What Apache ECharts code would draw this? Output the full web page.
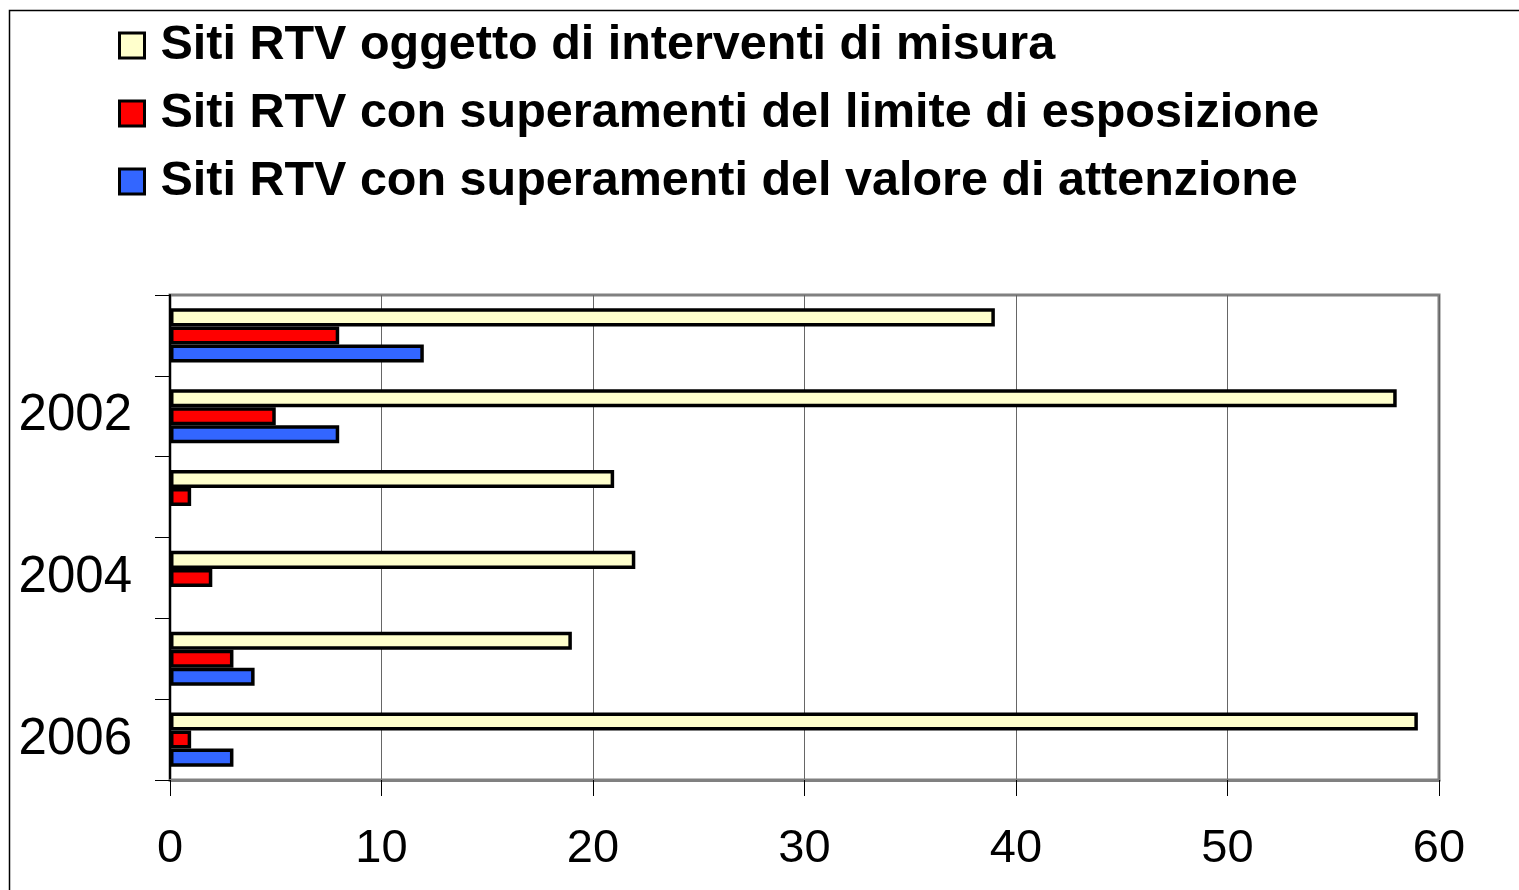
<!DOCTYPE html>
<html>
<head>
<meta charset="utf-8">
<script src="https://cdn.jsdelivr.net/npm/echarts@6/dist/echarts.min.js"></script>
<style>
html,body{margin:0;padding:0;background:#fff;}
#chart{width:1519px;height:890px;}
</style>
</head>
<body>
<div id="chart"></div>
<script>
const categories = ['2001', '2002', '2003', '2004', '2005', '2006'];
const seriesNames = [
  'Siti RTV oggetto di interventi di misura',
  'Siti RTV con superamenti del limite di esposizione',
  'Siti RTV con superamenti del valore di attenzione'
];
const misura = [39, 58, 21, 22, 19, 59];
const limite = [8, 5, 1, 2, 3, 1];
const attenzione = [12, 8, 0, 0, 4, 3];
const xTicks = [0, 10, 20, 30, 40, 50, 60];
const colors = ['#FFFFCC', '#FF0000', '#3366FF'];

const chart = echarts.init(document.getElementById('chart'), null, {renderer: 'canvas'});
const font = '"Liberation Sans", Arial, sans-serif';
const values = [misura, limite, attenzione];

chart.setOption({
  animation: false,
  backgroundColor: '#ffffff',
  graphic: [{
    type: 'rect',
    shape: {x: 9.5, y: 10.5, width: 1600, height: 1000},
    style: {fill: 'none', stroke: '#000', lineWidth: 1.5},
    silent: true,
    z: 100
  }],
  legend: {
    orient: 'vertical',
    left: 113,
    top: 16,
    padding: 5,
    itemWidth: 25,
    itemHeight: 25,
    itemGap: 19,
    icon: 'rect',
    itemStyle: {borderColor: '#000', borderWidth: 3},
    textStyle: {
      fontFamily: font, fontSize: 48.5, fontWeight: 'bold', color: '#000',
      lineHeight: 48, padding: [0, 0, 0, 11]
    },
    data: seriesNames
  },
  grid: {
    left: 170, right: 80, top: 295, bottom: 110,
    show: true, borderColor: '#808080', borderWidth: 3, backgroundColor: 'transparent'
  },
  xAxis: {
    type: 'value',
    min: xTicks[0], max: xTicks[xTicks.length - 1], interval: 10,
    axisLine: {show: true, lineStyle: {color: '#808080', width: 3}},
    axisTick: {show: true, length: 16, lineStyle: {color: '#000', width: 1}},
    splitLine: {show: true, lineStyle: {color: '#666', width: 1}},
    axisLabel: {fontFamily: font, fontSize: 47, color: '#000', margin: 46}
  },
  yAxis: {
    type: 'category',
    inverse: true,
    data: categories,
    axisLine: {show: true, lineStyle: {color: '#000', width: 2}},
    axisTick: {show: true, length: 15, interval: 0, lineStyle: {color: '#000', width: 1}},
    axisLabel: {
      fontFamily: font, fontSize: 51, color: '#000', margin: 38,
      interval: function (i) { return i % 2 === 1; }
    }
  },
  series: seriesNames.map((n, i) => ({
    name: n,
    type: 'bar',
    // zero values are not drawn (as in the original chart)
    data: values[i].map(v => (v === 0 ? '-' : v)),
    barGap: '0%',
    barCategoryGap: '33%',
    itemStyle: {color: colors[i], borderColor: '#000', borderWidth: 3.5}
  }))
});
</script>
</body>
</html>
